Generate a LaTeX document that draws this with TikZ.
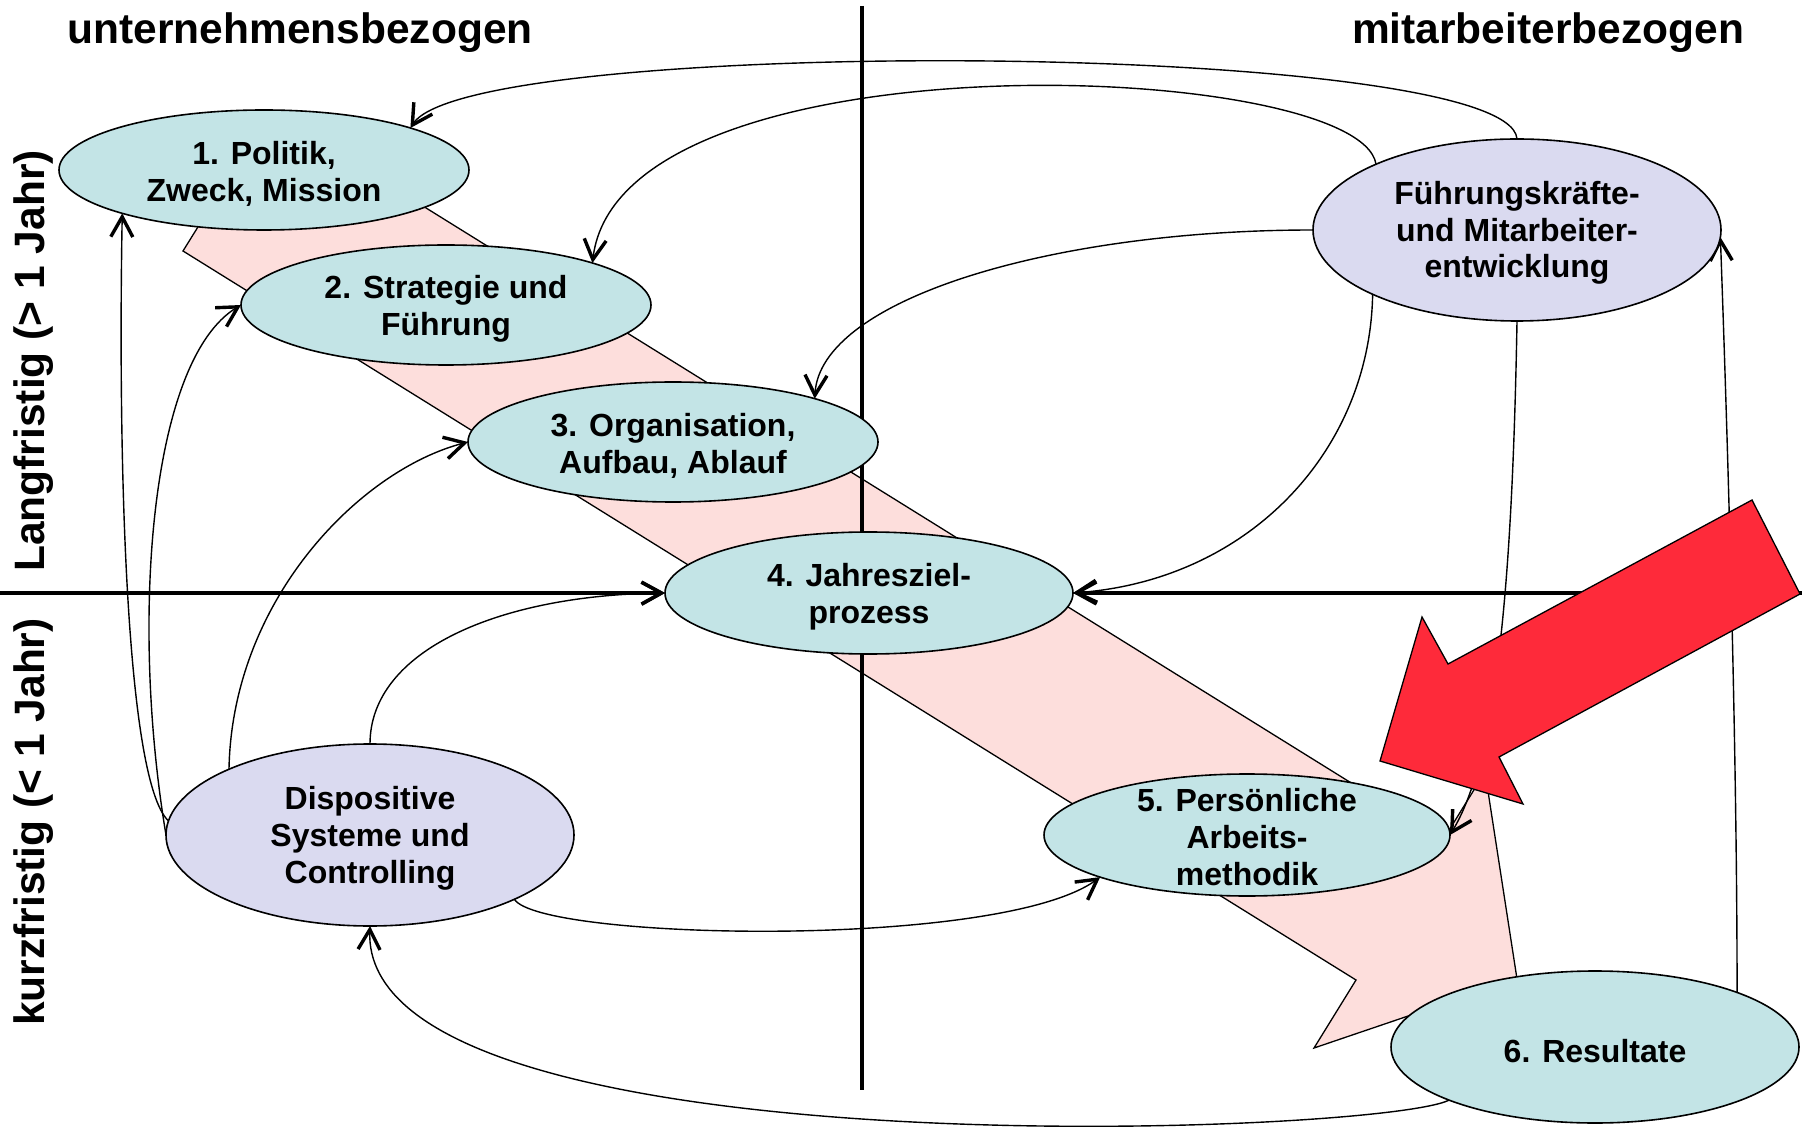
\documentclass[tikz,border=0pt]{standalone}
\usepackage{fontspec}
\setmainfont{Liberation Sans}
\usetikzlibrary{shapes.geometric,arrows.meta}
\definecolor{tealfill}{RGB}{195,228,230}
\definecolor{lavfill}{RGB}{218,218,240}
\definecolor{bandfill}{RGB}{253,222,220}
\definecolor{redarr}{RGB}{254,42,58}
\pgfdeclarelayer{bg}
\pgfdeclarelayer{mid}
\pgfdeclarelayer{fg}
\pgfsetlayers{bg,mid,main,fg}
\begin{document}
\begin{tikzpicture}[x=0.5pt,y=-0.5pt,
  el/.style={ellipse, draw, line width=0.8pt, inner sep=0pt, outer sep=0pt},
  tealel/.style={el, fill=tealfill},
  lavel/.style={el, fill=lavfill},
  tx/.style={align=center, inner sep=0pt, yshift=-2pt, font=\bfseries\fontsize{16}{18.4}\selectfont},
  headtxt/.style={font=\bfseries\fontsize{21.25}{24}\selectfont, inner sep=0pt},
  barb/.style={-{Straight Barb[length=10pt,width=11pt,line width=1.7pt]}},
  conn/.style={draw, line width=0.7pt, barb},
  axisline/.style={draw, line width=1.6pt},
  outline/.style={draw=black, line width=0.65pt}
]
\useasboundingbox (0,0) rectangle (1802,1127);

% titles
\node[headtxt, anchor=base] (tl) at (300,44) {unternehmensbezogen};
\node[headtxt, anchor=base] (tr) at (1548,44) {mitarbeiterbezogen};
\node[headtxt, rotate=90, anchor=base] (lang) at (44,361) {Langfristig (> 1 Jahr)};
\node[headtxt, rotate=90, anchor=base] (kurz) at (44,822) {kurzfristig (< 1 Jahr)};

% ellipses
\node[tealel, minimum width=205pt, minimum height=60pt] (p1) at (264,170) {};
\node[tealel, minimum width=205pt, minimum height=60pt] (p2) at (446,305) {};
\node[tealel, minimum width=205pt, minimum height=60pt] (p3) at (673,442) {};
\node[tealel, minimum width=204pt, minimum height=61pt] (p4) at (869,593) {};
\node[tealel, minimum width=203pt, minimum height=61pt] (p5) at (1247,835) {};
\node[tealel, minimum width=204pt, minimum height=76pt] (p6) at (1595,1047) {};
\node[lavel, minimum width=204pt, minimum height=91pt] (fk) at (1517,230) {};
\node[lavel, minimum width=204pt, minimum height=91pt] (ds) at (370,835) {};

\node[tx] (t1) at (p1.center) {1. Politik,\\Zweck, Mission};
\node[tx] (t2) at (p2.center) {2. Strategie und\\Führung};
\node[tx] (t3) at (p3.center) {3. Organisation,\\Aufbau, Ablauf};
\node[tx] (t4) at (p4.center) {4. Jahresziel-\\prozess};
\node[tx, yshift=1pt] (t5) at (p5.center) {5. Persönliche\\Arbeits-\\methodik};
\node[tx] (t6) at (p6.center) {6. Resultate};
\node[tx, yshift=0.5pt] (tf) at (fk.center) {Führungskräfte-\\und Mitarbeiter-\\entwicklung};
\node[tx, yshift=0.5pt] (td) at (ds.center) {Dispositive\\Systeme und\\Controlling};

% pink process band
\begin{pgfonlayer}{bg}
\fill[bandfill] (183,251) -- (270,111) -- (1443,840) -- (1485,772) -- (1517,979) -- (1314,1048) -- (1356,980) -- cycle;
\draw[outline, line join=miter] (183,251) -- (270,111) -- (1443,840) -- (1485,772) -- (1517,979) -- (1314,1048) -- (1356,980) -- cycle;
\end{pgfonlayer}

% axes and connectors
\begin{pgfonlayer}{mid}
\coordinate (vt) at (862,6);
\coordinate (vb) at (862,1090);
\coordinate (hl) at (0,593);
\coordinate (hr) at (1802,593);
\draw[axisline] (vt) -- (vb);
\draw[axisline, barb] (hl) -- (p4.west);
\draw[axisline, barb] (hr) -- (p4.east);

\draw[conn] (fk.north) .. controls (1510,40) and (470,35) .. (p1.16);
\draw[conn] (fk.155) .. controls (1360,60) and (620,30) .. (p2.16);
\draw[conn] (fk.west) .. controls (1050,230) and (820,300) .. (p3.17);
\draw[conn] (fk.204) .. controls (1370,450) and (1250,580) .. (p4.east);
\draw[conn] (fk.south) .. controls (1512,600) and (1495,760) .. (p5.east);
\draw[conn] (p6.21) .. controls (1737,750) and (1728,450) .. (fk.-2);
\draw[conn] (p6.200) .. controls (1380,1135) and (360,1175) .. (ds.south);
\draw[conn] (ds.336) .. controls (540,940) and (1000,950) .. (p5.196);
\draw[conn] (ds.north) .. controls (370,650) and (500,595) .. (p4.west);
\draw[conn] (ds.155) .. controls (232,600) and (360,470) .. (p3.west);
\draw[conn] (ds.west) .. controls (130,620) and (150,360) .. (p2.west);
\draw[conn] (ds.176) .. controls (125,780) and (118,450) .. (p1.197);
\end{pgfonlayer}

% red arrow
\begin{pgfonlayer}{fg}
\filldraw[fill=redarr, outline, line join=miter] (1752,500) -- (1448,664) -- (1422,617) -- (1380,761) -- (1523,804) -- (1499,757) -- (1800,594) -- cycle;
\end{pgfonlayer}
\end{tikzpicture}
\end{document}
